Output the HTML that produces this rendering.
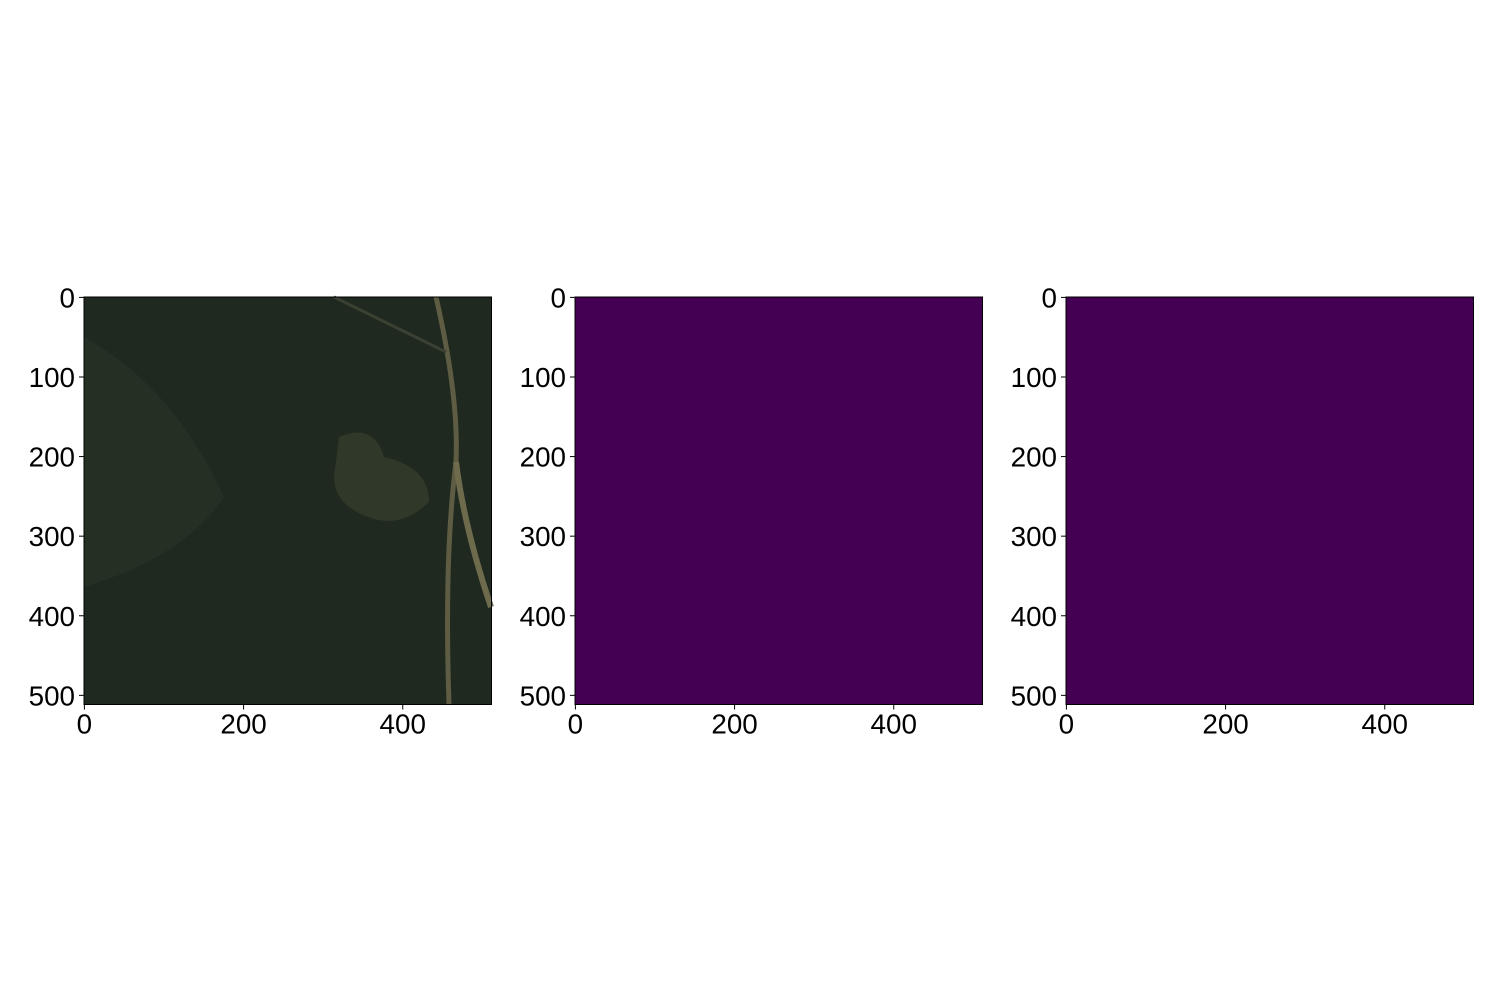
<!DOCTYPE html>
<html><head><meta charset="utf-8"><style>
html,body{margin:0;padding:0;background:#fff;}
svg{display:block;font-family:"Liberation Sans","DejaVu Sans",sans-serif;}
</style></head><body>
<svg id="fig" width="1500" height="1000" viewBox="0 0 1500 1000">
</svg>
<script>
const xTicks=[0,200,400];
const yTicks=[0,100,200,300,400,500];
const imgSize=512;
const panelLefts=[84,575,1066];
const panelKinds=['satellite','mask','prediction'];
const axTop=297, axSize=407.5;
const svgEl=document.getElementById('fig');
const NS='http://www.w3.org/2000/svg';
function mk(tag,attrs,parent){const e=document.createElementNS(NS,tag);for(const k in attrs)e.setAttribute(k,attrs[k]);(parent||svgEl).appendChild(e);return e;}
panelLefts.forEach((left,i)=>{
  const g=mk('g',{});
  
  
  const sx=v=>left+(v+0.5)/imgSize*axSize;
  const sy=v=>axTop+(v+0.5)/imgSize*axSize;
  if(i===0){
    const r=mk('rect',{x:left,y:axTop,width:axSize,height:axSize,fill:'#1f291f'},g);
    
    
    mk('path',{d:`M${left} ${axTop+40} Q${left+90} ${axTop+90} ${left+140} ${axTop+200} Q${left+100} ${axTop+260} ${left} ${axTop+290} Z`,fill:'#283225',opacity:0.7},g);
    mk('path',{d:`M${left+255} ${axTop+140} Q${left+290} ${axTop+125} ${left+300} ${axTop+160} Q${left+345} ${axTop+170} ${left+345} ${axTop+205} Q${left+320} ${axTop+230} ${left+290} ${axTop+222} Q${left+250} ${axTop+210} ${left+250} ${axTop+180} Z`,fill:'#2f3829'},g);
    mk('path',{d:`M${left+352} ${axTop} Q${left+375} ${axTop+100} ${left+372} ${axTop+165} Q${left+360} ${axTop+260} ${left+365} ${axTop+407}`,stroke:'#5e5c42',"stroke-width":5,fill:'none'},g);
    mk('path',{d:`M${left+372} ${axTop+165} Q${left+380} ${axTop+230} ${left+407} ${axTop+310}`,stroke:'#6e6a4c',"stroke-width":6,fill:'none'},g);
    mk('path',{d:`M${left+250} ${axTop} L${left+362} ${axTop+55}`,stroke:'#3a4032',"stroke-width":3,fill:'none'},g);
  } else {
    const r=mk('rect',{x:left,y:axTop,width:axSize,height:axSize,fill:'#440154'},g);
    
    
  }
  mk('rect',{x:left,y:axTop,width:axSize,height:axSize,fill:'none',stroke:'#000','stroke-width':1},g);
  xTicks.forEach(t=>{
    const x=sx(t);
    mk('line',{x1:x,y1:axTop+axSize,x2:x,y2:axTop+axSize+5,stroke:'#000'},g);
    const tx=mk('text',{x:x,y:axTop+axSize+29,'text-anchor':'middle','font-size':'27.8px',fill:'#000'},g);
    tx.textContent=t;
    
    
  });
  yTicks.forEach(t=>{
    const y=sy(t);
    mk('line',{x1:left-5,y1:y,x2:left,y2:y,stroke:'#000'},g);
    const tx=mk('text',{x:left-9,y:y+10,'text-anchor':'end','font-size':'27.8px',fill:'#000'},g);
    tx.textContent=t;
    
    
  });
});
</script>
</body></html>
